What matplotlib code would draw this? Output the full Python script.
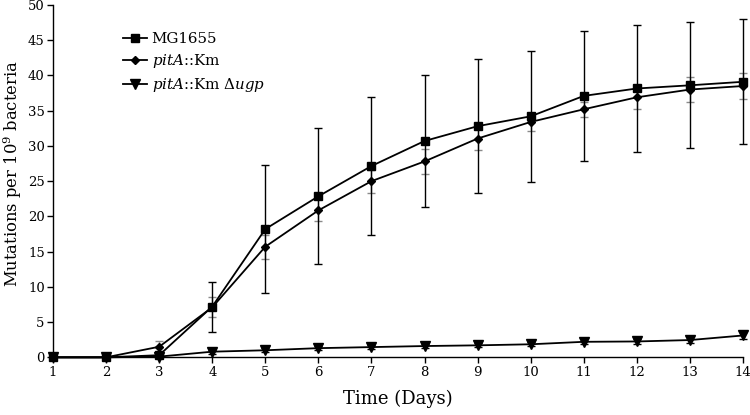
import matplotlib
matplotlib.use('Agg')
import matplotlib.pyplot as plt

plt.rcParams['font.family'] = ['DejaVu Serif']
plt.rcParams['mathtext.fontset'] = 'dejavuserif'

days = list(range(1, 15))

# mutations per 10^9 bacteria
mg1655 = [0, 0, 0.3, 7.2, 18.2, 22.85, 27.15, 30.7, 32.8, 34.2, 37.1, 38.15, 38.6, 39.1]
mg1655_err = [0, 0, 0.3, 3.55, 9.1, 9.65, 9.8, 9.4, 9.5, 9.3, 9.2, 9.05, 8.95, 8.85]

pita = [0, 0, 1.5, 7.1, 15.7, 20.85, 25.0, 27.8, 31.05, 33.4, 35.2, 36.9, 38.0, 38.5]
pita_err = [0, 0, 0.8, 1.4, 1.7, 1.55, 1.65, 1.8, 1.7, 1.3, 1.1, 1.6, 1.8, 1.8]

ugp = [0, 0, 0.1, 0.8, 1.0, 1.3, 1.45, 1.6, 1.7, 1.85, 2.2, 2.25, 2.45, 3.1]
ugp_err = [0, 0, 0.1, 0.3, 0.3, 0.3, 0.3, 0.3, 0.3, 0.3, 0.35, 0.35, 0.4, 0.5]

labels = ['MG1655', r'$\mathit{pitA}$::Km', r'$\mathit{pitA}$::Km $\Delta\mathit{ugp}$']

fig = plt.figure(figsize=(7.5, 4.15), dpi=100)
ax = fig.add_axes([0.0707, 0.139, 0.92, 0.849])

# error bars first, lines + markers on top
eb = dict(fmt='none', elinewidth=1.0, capsize=3, capthick=1.0, clip_on=False)
ax.errorbar(days, pita, yerr=pita_err, ecolor='#8a8a8a', zorder=2, **eb)
ax.errorbar(days, mg1655, yerr=mg1655_err, ecolor='black', zorder=2, **eb)
ax.errorbar(days, ugp, yerr=ugp_err, ecolor='black', zorder=2, **eb)

ln = dict(color='black', lw=1.3, clip_on=False)
ax.plot(days, mg1655, marker='s', ms=6, label=labels[0], zorder=4, **ln)
ax.plot(days, pita, marker='D', ms=4.5, label=labels[1], zorder=3, **ln)
ax.plot(days, ugp, marker='v', ms=6.5, label=labels[2], zorder=3, **ln)

ax.set_xlim(1, 14)
ax.set_ylim(0, 50)
ax.set_xticks(days)
ax.set_yticks(range(0, 51, 5))
ax.tick_params(direction='out', length=4, width=1, labelsize=9.5, pad=2)
for s in ['top', 'right']:
    ax.spines[s].set_visible(False)
for s in ['left', 'bottom']:
    ax.spines[s].set_linewidth(1)

ax.set_xlabel('Time (Days)', fontsize=13, labelpad=8)
ax.set_ylabel(r'Mutations per 10$^9$ bacteria', fontsize=11.8)
ax.yaxis.set_label_coords(-0.042, 0.52)

ax.legend(loc='upper left', bbox_to_anchor=(0.082, 0.962), frameon=False,
          fontsize=10.8, handlelength=1.6, handletextpad=0.3, labelspacing=0.4)

fig.savefig('out.png', dpi=100)
